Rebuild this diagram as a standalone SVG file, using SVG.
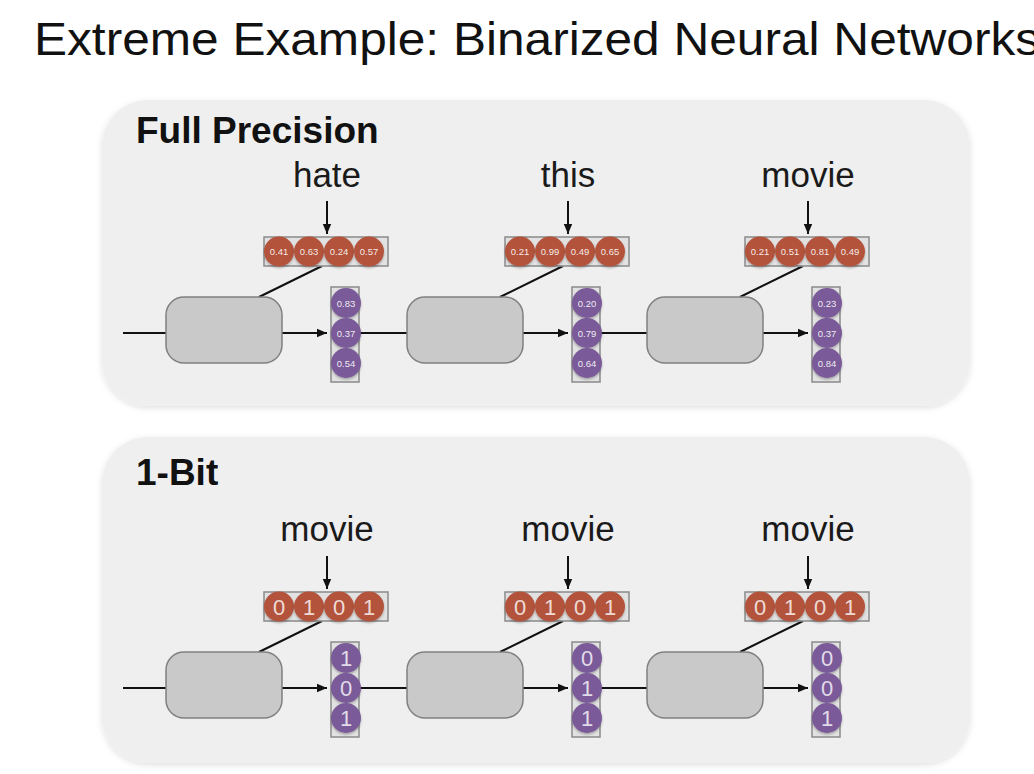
<svg xmlns="http://www.w3.org/2000/svg" width="1034" height="774" viewBox="0 0 1034 774">
<defs>
<filter id="sh" x="-10%" y="-10%" width="120%" height="120%"><feDropShadow dx="0" dy="2" stdDeviation="3" flood-color="#000" flood-opacity="0.12"/></filter>
<filter id="csh" x="-30%" y="-30%" width="160%" height="160%"><feDropShadow dx="0" dy="1.5" stdDeviation="1.2" flood-color="#000" flood-opacity="0.3"/></filter>
<marker id="ah" viewBox="0 0 10 10" refX="10" refY="5" markerWidth="10" markerHeight="10" markerUnits="userSpaceOnUse" orient="auto"><path d="M0,0.8 L10,5 L0,9.2 z" fill="#111"/></marker>
<style>
.panel{fill:#efefef;filter:url(#sh)}
.ttl{font-family:"Liberation Sans",Arial,sans-serif;font-size:46px;fill:#111}
.hd{font-family:"Liberation Sans",Arial,sans-serif;font-size:37px;font-weight:bold;fill:#111}
.wd{font-family:"Liberation Sans",Arial,sans-serif;font-size:35px;fill:#1a1a1a;text-anchor:middle}
.vbox{fill:#e2e2e2;stroke:#8a8a8a;stroke-width:1.5}
.oc{fill:#b3533b;filter:url(#csh)}
.pc{fill:#7a5a98;filter:url(#csh)}
.rnn{fill:#c9c9c9;stroke:#808080;stroke-width:1.5}
.sv{font-family:"Liberation Sans",Arial,sans-serif;font-size:9.5px;fill:#fff;fill-opacity:0.9;text-anchor:middle}
.bv{font-family:"Liberation Sans",Arial,sans-serif;font-size:22px;fill:#fff;fill-opacity:0.8;text-anchor:middle}
.ln{stroke:#111;stroke-width:2;fill:none}
.ar{stroke:#111;stroke-width:2;fill:none;marker-end:url(#ah)}
</style>
</defs>
<rect width="1034" height="774" fill="#fff"/>
<text class="ttl" x="34" y="55" textLength="1006" lengthAdjust="spacingAndGlyphs">Extreme Example: Binarized Neural Networks</text>

<g id="panel-full"><rect class="panel" x="102" y="100" width="868" height="306" rx="46"/><text class="hd" x="136" y="143">Full Precision</text></g>
<g id="panel-1bit"><rect class="panel" x="102" y="437" width="868" height="326" rx="46"/><text class="hd" x="136" y="485">1-Bit</text></g>

<g id="connectors">
<line class="ln" x1="123" y1="333" x2="166" y2="333"/>
<line class="ar" x1="282" y1="333" x2="327" y2="333"/>
<line class="ar" x1="327" y1="201" x2="327" y2="234"/>
<line class="ln" x1="322" y1="266" x2="259" y2="297"/>
<line class="ln" x1="359" y1="333" x2="407" y2="333"/>
<line class="ar" x1="523" y1="333" x2="568" y2="333"/>
<line class="ar" x1="568" y1="201" x2="568" y2="234"/>
<line class="ln" x1="563" y1="266" x2="500" y2="297"/>
<line class="ln" x1="600" y1="333" x2="647" y2="333"/>
<line class="ar" x1="763" y1="333" x2="808" y2="333"/>
<line class="ar" x1="808" y1="201" x2="808" y2="234"/>
<line class="ln" x1="803" y1="266" x2="740" y2="297"/>

<line class="ln" x1="123" y1="688" x2="166" y2="688"/>
<line class="ar" x1="282" y1="688" x2="327" y2="688"/>
<line class="ar" x1="327" y1="556" x2="327" y2="589"/>
<line class="ln" x1="322" y1="621" x2="259" y2="652"/>
<line class="ln" x1="359" y1="688" x2="407" y2="688"/>
<line class="ar" x1="523" y1="688" x2="568" y2="688"/>
<line class="ar" x1="568" y1="556" x2="568" y2="589"/>
<line class="ln" x1="563" y1="621" x2="500" y2="652"/>
<line class="ln" x1="600" y1="688" x2="647" y2="688"/>
<line class="ar" x1="763" y1="688" x2="808" y2="688"/>
<line class="ar" x1="808" y1="556" x2="808" y2="589"/>
<line class="ln" x1="803" y1="621" x2="740" y2="652"/>
</g>

<!-- Full precision cells -->
<g id="fp-word-1"><text class="wd" x="327" y="187">hate</text></g>
<g id="fp-word-2"><text class="wd" x="568" y="187">this</text></g>
<g id="fp-word-3"><text class="wd" x="808" y="187">movie</text></g>

<g id="fp-emb-1">
<rect class="vbox" x="264" y="237" width="124" height="29"/>
<circle class="oc" cx="279" cy="251.5" r="15"/><circle class="oc" cx="309" cy="251.5" r="15"/><circle class="oc" cx="339" cy="251.5" r="15"/><circle class="oc" cx="369" cy="251.5" r="15"/>
<text class="sv" x="279" y="255">0.41</text><text class="sv" x="309" y="255">0.63</text><text class="sv" x="339" y="255">0.24</text><text class="sv" x="369" y="255">0.57</text>
</g>
<g id="fp-emb-2" transform="translate(241,0)">
<rect class="vbox" x="264" y="237" width="124" height="29"/>
<circle class="oc" cx="279" cy="251.5" r="15"/><circle class="oc" cx="309" cy="251.5" r="15"/><circle class="oc" cx="339" cy="251.5" r="15"/><circle class="oc" cx="369" cy="251.5" r="15"/>
<text class="sv" x="279" y="255">0.21</text><text class="sv" x="309" y="255">0.99</text><text class="sv" x="339" y="255">0.49</text><text class="sv" x="369" y="255">0.65</text>
</g>
<g id="fp-emb-3" transform="translate(481,0)">
<rect class="vbox" x="264" y="237" width="124" height="29"/>
<circle class="oc" cx="279" cy="251.5" r="15"/><circle class="oc" cx="309" cy="251.5" r="15"/><circle class="oc" cx="339" cy="251.5" r="15"/><circle class="oc" cx="369" cy="251.5" r="15"/>
<text class="sv" x="279" y="255">0.21</text><text class="sv" x="309" y="255">0.51</text><text class="sv" x="339" y="255">0.81</text><text class="sv" x="369" y="255">0.49</text>
</g>

<g id="fp-rnn-1"><rect class="rnn" x="166" y="297" width="116" height="66" rx="18"/></g>
<g id="fp-rnn-2"><rect class="rnn" x="407" y="297" width="116" height="66" rx="18"/></g>
<g id="fp-rnn-3"><rect class="rnn" x="647" y="297" width="116" height="66" rx="18"/></g>

<g id="fp-hid-1">
<rect class="vbox" x="331" y="287" width="28" height="95"/>
<circle class="pc" cx="346" cy="303" r="15"/><circle class="pc" cx="346" cy="333" r="15"/><circle class="pc" cx="346" cy="363" r="15"/>
<text class="sv" x="346" y="306.5">0.83</text><text class="sv" x="346" y="336.5">0.37</text><text class="sv" x="346" y="366.5">0.54</text>
</g>
<g id="fp-hid-2" transform="translate(241,0)">
<rect class="vbox" x="331" y="287" width="28" height="95"/>
<circle class="pc" cx="346" cy="303" r="15"/><circle class="pc" cx="346" cy="333" r="15"/><circle class="pc" cx="346" cy="363" r="15"/>
<text class="sv" x="346" y="306.5">0.20</text><text class="sv" x="346" y="336.5">0.79</text><text class="sv" x="346" y="366.5">0.64</text>
</g>
<g id="fp-hid-3" transform="translate(481,0)">
<rect class="vbox" x="331" y="287" width="28" height="95"/>
<circle class="pc" cx="346" cy="303" r="15"/><circle class="pc" cx="346" cy="333" r="15"/><circle class="pc" cx="346" cy="363" r="15"/>
<text class="sv" x="346" y="306.5">0.23</text><text class="sv" x="346" y="336.5">0.37</text><text class="sv" x="346" y="366.5">0.84</text>
</g>

<!-- 1-bit cells -->
<g id="bb-word-1"><text class="wd" x="327" y="541">movie</text></g>
<g id="bb-word-2"><text class="wd" x="568" y="541">movie</text></g>
<g id="bb-word-3"><text class="wd" x="808" y="541">movie</text></g>

<g id="bb-emb-1" transform="translate(0,355)">
<rect class="vbox" x="264" y="237" width="124" height="29"/>
<circle class="oc" cx="279" cy="251.5" r="15"/><circle class="oc" cx="309" cy="251.5" r="15"/><circle class="oc" cx="339" cy="251.5" r="15"/><circle class="oc" cx="369" cy="251.5" r="15"/>
<text class="bv" x="279" y="259.5">0</text><text class="bv" x="309" y="259.5">1</text><text class="bv" x="339" y="259.5">0</text><text class="bv" x="369" y="259.5">1</text>
</g>
<g id="bb-emb-2" transform="translate(241,355)">
<rect class="vbox" x="264" y="237" width="124" height="29"/>
<circle class="oc" cx="279" cy="251.5" r="15"/><circle class="oc" cx="309" cy="251.5" r="15"/><circle class="oc" cx="339" cy="251.5" r="15"/><circle class="oc" cx="369" cy="251.5" r="15"/>
<text class="bv" x="279" y="259.5">0</text><text class="bv" x="309" y="259.5">1</text><text class="bv" x="339" y="259.5">0</text><text class="bv" x="369" y="259.5">1</text>
</g>
<g id="bb-emb-3" transform="translate(481,355)">
<rect class="vbox" x="264" y="237" width="124" height="29"/>
<circle class="oc" cx="279" cy="251.5" r="15"/><circle class="oc" cx="309" cy="251.5" r="15"/><circle class="oc" cx="339" cy="251.5" r="15"/><circle class="oc" cx="369" cy="251.5" r="15"/>
<text class="bv" x="279" y="259.5">0</text><text class="bv" x="309" y="259.5">1</text><text class="bv" x="339" y="259.5">0</text><text class="bv" x="369" y="259.5">1</text>
</g>

<g id="bb-rnn-1"><rect class="rnn" x="166" y="652" width="116" height="66" rx="18"/></g>
<g id="bb-rnn-2"><rect class="rnn" x="407" y="652" width="116" height="66" rx="18"/></g>
<g id="bb-rnn-3"><rect class="rnn" x="647" y="652" width="116" height="66" rx="18"/></g>

<g id="bb-hid-1" transform="translate(0,355)">
<rect class="vbox" x="331" y="287" width="28" height="95"/>
<circle class="pc" cx="346" cy="303" r="15"/><circle class="pc" cx="346" cy="333" r="15"/><circle class="pc" cx="346" cy="363" r="15"/>
<text class="bv" x="346" y="311">1</text><text class="bv" x="346" y="341">0</text><text class="bv" x="346" y="371">1</text>
</g>
<g id="bb-hid-2" transform="translate(241,355)">
<rect class="vbox" x="331" y="287" width="28" height="95"/>
<circle class="pc" cx="346" cy="303" r="15"/><circle class="pc" cx="346" cy="333" r="15"/><circle class="pc" cx="346" cy="363" r="15"/>
<text class="bv" x="346" y="311">0</text><text class="bv" x="346" y="341">1</text><text class="bv" x="346" y="371">1</text>
</g>
<g id="bb-hid-3" transform="translate(481,355)">
<rect class="vbox" x="331" y="287" width="28" height="95"/>
<circle class="pc" cx="346" cy="303" r="15"/><circle class="pc" cx="346" cy="333" r="15"/><circle class="pc" cx="346" cy="363" r="15"/>
<text class="bv" x="346" y="311">0</text><text class="bv" x="346" y="341">0</text><text class="bv" x="346" y="371">1</text>
</g>
</svg>
